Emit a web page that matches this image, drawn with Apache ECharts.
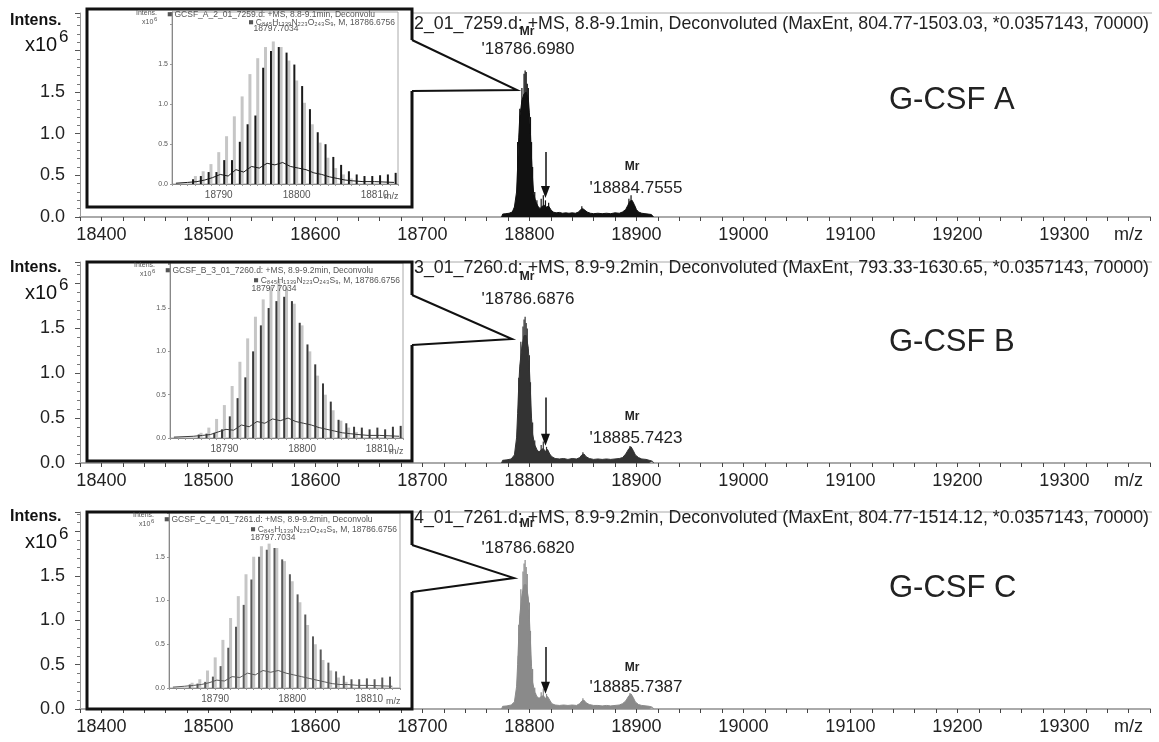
<!DOCTYPE html>
<html>
<head>
<meta charset="utf-8">
<script src="https://cdn.jsdelivr.net/npm/echarts@6/dist/echarts.min.js"></script>
<style>
html, body { margin: 0; padding: 0; background: #fff; }
#main { width: 1159px; height: 742px; }
</style>
</head>
<body>
<div id="main"></div>
<script>
// tick labels
var mzLabels = [18400, 18500, 18600, 18700, 18800, 18900, 19000, 19100, 19200, 19300];
var intensLabels = [0, 0.5, 1.0, 1.5];
var insetLabels = [18790, 18800, 18810];

// panel names / headers
var panelNames = ['G-CSF A', 'G-CSF B', 'G-CSF C'];
var headers = [
	'2_01_7259.d: +MS, 8.8-9.1min, Deconvoluted (MaxEnt, 804.77-1503.03, *0.0357143, 70000)',
	'3_01_7260.d: +MS, 8.9-9.2min, Deconvoluted (MaxEnt, 793.33-1630.65, *0.0357143, 70000)',
	'4_01_7261.d: +MS, 8.9-9.2min, Deconvoluted (MaxEnt, 804.77-1514.12, *0.0357143, 70000)'
];
var insetHeaders = [
	'\u25A0 GCSF_A_2_01_7259.d: +MS, 8.8-9.1min, Deconvolu',
	'\u25A0 GCSF_B_3_01_7260.d: +MS, 8.9-9.2min, Deconvolu',
	'\u25A0 GCSF_C_4_01_7261.d: +MS, 8.9-9.2min, Deconvolu'
];
var formulaText = '\u25A0 C\u2088\u2084\u2085H\u2081\u2083\u2083\u2089N\u2082\u2082\u2083O\u2082\u2084\u2083S\u2089, M, 18786.6756';
var insetPeakText = '18797.7034';
var mainPeakMr = ['18786.6980', '18786.6876', '18786.6820'];
var secondPeakMr = ['18884.7555', '18885.7423', '18885.7387'];

// main spectra, profile [m/z, intensity x10^6]
var profA = [[18774,0],[18775,0.035],[18778,0.04],[18781,0.045],[18784,0.06],[18786,0.12],[18788,0.3],[18789,0.6],[18790,0.95],[18791,1.2],[18793,1.4],[18795,1.48],[18797,1.5],[18799,1.42],[18800,1.25],[18801,1.0],[18802,0.7],[18803,0.45],[18804,0.28],[18806,0.18],[18808,0.13],[18810,0.1],[18812,0.13],[18814,0.14],[18816,0.12],[18818,0.13],[18820,0.09],[18822,0.06],[18825,0.05],[18828,0.055],[18831,0.045],[18834,0.05],[18837,0.045],[18840,0.05],[18843,0.045],[18846,0.06],[18848,0.09],[18850,0.1],[18852,0.08],[18854,0.06],[18857,0.045],[18860,0.04],[18864,0.045],[18868,0.04],[18872,0.045],[18876,0.04],[18880,0.05],[18884,0.045],[18887,0.06],[18890,0.09],[18892,0.14],[18894,0.19],[18896,0.2],[18898,0.15],[18900,0.09],[18902,0.06],[18905,0.045],[18908,0.04],[18911,0.035],[18914,0.03],[18916,0]];
var darkA = [[18789,0.9],[18791,1.3],[18793,1.55],[18795,1.72],[18796,1.76],[18797,1.74],[18798,1.6],[18799,1.55],[18801,1.2],[18802,0.9],[18803,0.6],[18805,0.3],[18807,0.2],[18811,0.22],[18813,0.26],[18815,0.2],[18818,0.17],[18849,0.13],[18893,0.22],[18895,0.26]];
var lightA = [[18789,0.55],[18790,0.85],[18792,1.2],[18794,1.3],[18797,1.35],[18799,1.3],[18801,0.95],[18803,0.4],[18806,0.16],[18809,0.1],[18812,0.12],[18894,0.15]];

var profB = [[18774,0],[18775,0.03],[18779,0.035],[18783,0.045],[18786,0.09],[18788,0.28],[18789,0.55],[18790,0.85],[18791,1.08],[18793,1.3],[18795,1.42],[18797,1.42],[18799,1.28],[18800,1.05],[18801,0.78],[18802,0.5],[18803,0.32],[18805,0.2],[18807,0.15],[18809,0.12],[18811,0.15],[18813,0.16],[18815,0.13],[18817,0.15],[18819,0.1],[18821,0.07],[18824,0.05],[18828,0.045],[18832,0.05],[18836,0.04],[18840,0.05],[18844,0.045],[18847,0.06],[18849,0.09],[18851,0.1],[18853,0.07],[18856,0.05],[18860,0.04],[18864,0.045],[18868,0.04],[18872,0.045],[18876,0.04],[18880,0.045],[18884,0.05],[18887,0.06],[18890,0.1],[18893,0.16],[18895,0.18],[18897,0.14],[18899,0.09],[18902,0.06],[18905,0.045],[18909,0.04],[18912,0.03],[18915,0.02],[18916,0]];
var darkB = [[18790,0.95],[18792,1.35],[18794,1.52],[18795,1.6],[18796,1.63],[18797,1.56],[18798,1.5],[18800,1.2],[18801,0.9],[18803,0.45],[18805,0.25],[18811,0.2],[18813,0.24],[18816,0.18],[18850,0.12],[18894,0.19]];
var lightB = [[18789,0.6],[18791,1.0],[18793,1.2],[18796,1.3],[18798,1.25],[18800,0.9],[18802,0.55],[18806,0.18],[18812,0.14]];

var profC = [[18774,0],[18775,0.03],[18779,0.035],[18783,0.045],[18786,0.08],[18788,0.25],[18789,0.5],[18790,0.8],[18791,1.05],[18793,1.28],[18795,1.4],[18797,1.4],[18799,1.25],[18800,1.02],[18801,0.75],[18802,0.48],[18803,0.3],[18805,0.19],[18807,0.14],[18809,0.12],[18811,0.14],[18813,0.15],[18815,0.12],[18817,0.14],[18819,0.1],[18821,0.06],[18824,0.045],[18828,0.04],[18832,0.045],[18836,0.04],[18840,0.045],[18844,0.04],[18847,0.06],[18849,0.09],[18851,0.1],[18853,0.07],[18856,0.05],[18860,0.04],[18864,0.04],[18868,0.035],[18872,0.04],[18876,0.035],[18880,0.04],[18884,0.045],[18887,0.06],[18890,0.09],[18893,0.15],[18895,0.17],[18897,0.13],[18899,0.08],[18902,0.05],[18905,0.04],[18909,0.035],[18912,0.03],[18915,0.02],[18916,0]];
var darkC = [[18790,0.95],[18792,1.35],[18794,1.55],[18795,1.64],[18796,1.68],[18797,1.6],[18798,1.52],[18800,1.2],[18801,0.88],[18803,0.45],[18805,0.24],[18811,0.19],[18813,0.23],[18816,0.17],[18850,0.12],[18894,0.18]];
var lightC = [[18789,0.6],[18791,1.0],[18793,1.2],[18796,1.3],[18798,1.25],[18800,0.9],[18802,0.55],[18806,0.18],[18812,0.14]];

// down arrows [m/z, from, to]
var arrowA = [18815, 0.78, 0.3];
var arrowB = [18815, 0.73, 0.26];
var arrowC = [18815, 0.7, 0.24];

// insets: measured isotope peaks
var isoMz = [18786.7,18787.7,18788.7,18789.7,18790.7,18791.7,18792.7,18793.7,18794.7,18795.7,18796.7,18797.7,18798.7,18799.7,18800.7,18801.7,18802.7,18803.7,18804.7,18805.7,18806.7,18807.7,18808.7,18809.7,18810.7,18811.7,18812.7];
var isoA = [0.06,0.1,0.15,0.15,0.3,0.3,0.53,0.75,0.86,1.46,1.67,1.72,1.65,1.5,1.23,0.94,0.65,0.5,0.34,0.24,0.16,0.12,0.1,0.1,0.11,0.12,0.14];
var isoB = [0.04,0.05,0.06,0.1,0.25,0.46,0.7,1.0,1.3,1.5,1.58,1.63,1.58,1.33,1.08,0.85,0.63,0.42,0.21,0.17,0.13,0.12,0.1,0.12,0.1,0.13,0.14];
var isoC = [0.04,0.05,0.07,0.13,0.25,0.46,0.7,0.95,1.24,1.5,1.58,1.6,1.47,1.3,1.07,0.84,0.59,0.44,0.29,0.19,0.14,0.1,0.1,0.11,0.1,0.12,0.13];
// insets: simulated pattern (light grey)
var simMz = [18787.0,18788.0,18789.0,18790.0,18791.0,18792.0,18793.0,18794.0,18795.0,18796.0,18797.0,18798.0,18799.0,18800.0,18801.0,18802.0,18803.0,18804.0,18805.0,18806.0,18807.0];
var simA = [0.1,0.16,0.25,0.4,0.6,0.85,1.1,1.38,1.58,1.72,1.79,1.72,1.55,1.3,1.02,0.75,0.52,0.33,0.2,0.12,0.07];
var simB = [0.06,0.12,0.22,0.38,0.6,0.88,1.15,1.4,1.6,1.75,1.82,1.74,1.55,1.3,1.0,0.72,0.5,0.32,0.2,0.12,0.07];
var simC = [0.06,0.1,0.2,0.35,0.55,0.8,1.05,1.3,1.5,1.62,1.65,1.6,1.45,1.22,0.98,0.72,0.5,0.32,0.2,0.12,0.07];
// insets: low profile trace
var traceA = [[18784.5,0.01],[18786,0.02],[18787.2,0.03],[18788.2,0.05],[18789.2,0.08],[18790.2,0.12],[18791.2,0.1],[18792.2,0.18],[18793.2,0.15],[18794.2,0.22],[18795.2,0.2],[18796.2,0.26],[18797.2,0.24],[18798.2,0.27],[18799.2,0.22],[18800.2,0.2],[18801.2,0.18],[18802.2,0.14],[18803.2,0.12],[18804.2,0.09],[18805.2,0.07],[18806.2,0.05],[18807.2,0.04],[18808.5,0.03],[18810,0.03],[18812.5,0.02]];
var traceB = [[18783.5,0.01],[18786,0.02],[18787.2,0.03],[18788.2,0.04],[18789.2,0.07],[18790.2,0.1],[18791.2,0.09],[18792.2,0.15],[18793.2,0.13],[18794.2,0.19],[18795.2,0.17],[18796.2,0.22],[18797.2,0.2],[18798.2,0.23],[18799.2,0.19],[18800.2,0.17],[18801.2,0.15],[18802.2,0.12],[18803.2,0.1],[18804.2,0.08],[18805.2,0.06],[18806.2,0.05],[18807.2,0.04],[18808.5,0.03],[18810,0.03],[18812.5,0.02]];
var traceC = [[18784.5,0.01],[18786,0.02],[18787.2,0.03],[18788.2,0.04],[18789.2,0.06],[18790.2,0.09],[18791.2,0.08],[18792.2,0.13],[18793.2,0.12],[18794.2,0.17],[18795.2,0.15],[18796.2,0.2],[18797.2,0.18],[18798.2,0.2],[18799.2,0.17],[18800.2,0.15],[18801.2,0.13],[18802.2,0.11],[18803.2,0.09],[18804.2,0.07],[18805.2,0.05],[18806.2,0.04],[18807.2,0.04],[18808.5,0.03],[18810,0.03],[18813,0.02]];

function zip(xs, ys) {
	return xs.map(function (x, k) { return [x, ys[k]]; });
}

var panels = [
	{ top: 13, height: 204, yMax: 2.45, ins: { left: 172, top: 12, width: 226, height: 172 }, insMin: 18784, insMax: 18813, insYMax: 2.16,
	  color: '#111', insColor: '#1a1a1a', prof: profA, dark: darkA, light: lightA, arrow: arrowA, iso: isoA, sim: simA, trace: traceA,
	  box: [87, 9, 412, 207], ptr: [[412, 40], [517, 90], [412, 91]] },
	{ top: 262, height: 201, yMax: 2.24, ins: { left: 170, top: 263, width: 233, height: 175 }, insMin: 18783, insMax: 18813, insYMax: 2.02,
	  color: '#333', insColor: '#3a3a3a', prof: profB, dark: darkB, light: lightB, arrow: arrowB, iso: isoB, sim: simB, trace: traceB,
	  box: [87, 262, 412, 461], ptr: [[412, 295], [512, 339], [412, 345]] },
	{ top: 512, height: 197, yMax: 2.22, ins: { left: 169, top: 513, width: 231, height: 175 }, insMin: 18784, insMax: 18814, insYMax: 2.0,
	  color: '#8a8a8a', insColor: '#5a5a5a', prof: profC, dark: darkC, light: lightC, arrow: arrowC, iso: isoC, sim: simC, trace: traceC,
	  box: [87, 512, 412, 709], ptr: [[412, 545], [514, 578], [412, 592]] }
];

// annotation layout per panel (pixels)
var anno = [
	{ head: 24, mr1: 32, num1: 49, mr2: 167, num2: 188, big: 100, intens: 21, x10: 45, insHead: 15, insForm: 23, insPeak: 29, insIntens: 13, insX10: 22, insMz: 197 },
	{ head: 268, mr1: 277, num1: 299, mr2: 417, num2: 438, big: 342, intens: 268, x10: 293, insHead: 271, insForm: 281, insPeak: 289, insIntens: 265, insX10: 274, insMz: 452 },
	{ head: 518, mr1: 524, num1: 548, mr2: 668, num2: 687, big: 588, intens: 517, x10: 542, insHead: 520, insForm: 530, insPeak: 538, insIntens: 515, insX10: 524, insMz: 702 }
];

function stick(w) {
	return function (params, api) {
		var p0 = api.coord([api.value(0), 0]);
		var p1 = api.coord([api.value(0), api.value(1)]);
		return {
			type: 'rect',
			shape: { x: p0[0] - w / 2, y: p1[1], width: w, height: p0[1] - p1[1] },
			style: { fill: api.visual('color') }
		};
	};
}

function txt(x, y, s, font, color, align) {
	return {
		type: 'text', x: x, y: y, z: 20,
		style: { text: s, font: font, fill: color || '#222', align: align || 'left', verticalAlign: 'middle' }
	};
}

var FONT = '"Liberation Sans", Arial, sans-serif';
var grids = [], xAxes = [], yAxes = [], series = [], graphics = [];

panels.forEach(function (p, i) {
	grids.push({ left: 80, top: p.top, width: 1070, height: p.height });
	xAxes.push({
		type: 'value', gridIndex: i, min: 18380, max: 19380, interval: 20,
		axisLine: { onZero: false, lineStyle: { color: '#aaa', width: 2 } },
		axisTick: { length: 4, lineStyle: { color: '#444' } },
		splitLine: { show: false },
		axisLabel: {
			margin: 9, fontSize: 18, fontFamily: FONT, color: '#222',
			formatter: function (v) {
				if (mzLabels.indexOf(v) >= 0) return String(v);
				if (v === 19360) return 'm/z';
				return '';
			}
		}
	});
	yAxes.push({
		type: 'value', gridIndex: i, min: 0, max: p.yMax, interval: 0.5,
		axisLine: { show: true, lineStyle: { color: '#999' } },
		axisTick: { show: true, length: 5, lineStyle: { color: '#555' } },
		minorTick: { show: true, splitNumber: 5, length: 3, lineStyle: { color: '#777' } },
		splitLine: { show: false },
		axisLabel: {
			margin: 15, fontSize: 18, fontFamily: FONT, color: '#222',
			formatter: function (v) {
				return intensLabels.indexOf(v) >= 0 ? v.toFixed(1) : '';
			}
		}
	});
});

panels.forEach(function (p, i) {
	var gi = 3 + i;
	grids.push({ left: p.ins.left, top: p.ins.top, width: p.ins.width, height: p.ins.height,
		show: true, borderColor: '#aaa', borderWidth: 1, backgroundColor: 'transparent' });
	xAxes.push({
		type: 'value', gridIndex: gi, min: p.insMin, max: p.insMax, interval: 1,
		axisLine: { onZero: false, lineStyle: { color: '#888' } },
		axisTick: { length: 2, lineStyle: { color: '#999' } },
		splitLine: { show: false },
		axisLabel: {
			margin: 6, fontSize: 10, fontFamily: FONT, color: '#555',
			formatter: function (v) { return insetLabels.indexOf(v) >= 0 ? String(v) : ''; }
		}
	});
	yAxes.push({
		type: 'value', gridIndex: gi, min: 0, max: p.insYMax, interval: 0.5,
		axisLine: { show: true, lineStyle: { color: '#888' } },
		axisTick: { show: true, length: 2, lineStyle: { color: '#999' } },
		splitLine: { show: false },
		axisLabel: {
			margin: 4, fontSize: 7, fontFamily: FONT, color: '#555',
			formatter: function (v) { return intensLabels.indexOf(v) >= 0 ? v.toFixed(1) : ''; }
		}
	});
});

panels.forEach(function (p, i) {
	// main spectrum
	series.push({
		type: 'line', xAxisIndex: i, yAxisIndex: i, data: p.prof, symbol: 'none',
		lineStyle: { color: p.color, width: 1 }, areaStyle: { color: p.color, opacity: 1 },
		markLine: {
			silent: true, symbol: ['none', 'triangle'], symbolSize: [9, 12],
			lineStyle: { color: '#111', width: 1.5, type: 'solid' }, label: { show: false },
			data: [[{ coord: [p.arrow[0], p.arrow[1]] }, { coord: [p.arrow[0], p.arrow[2]] }]]
		}
	});
	series.push({ type: 'custom', xAxisIndex: i, yAxisIndex: i, renderItem: stick(1),
		data: p.light, encode: { x: 0, y: 1 }, itemStyle: { color: '#d4d4d4' } });
	series.push({ type: 'custom', xAxisIndex: i, yAxisIndex: i, renderItem: stick(1.2),
		data: p.dark, encode: { x: 0, y: 1 }, itemStyle: { color: p.color } });
	// inset
	series.push({ type: 'custom', xAxisIndex: 3 + i, yAxisIndex: 3 + i, renderItem: stick(3),
		data: zip(simMz, p.sim), encode: { x: 0, y: 1 }, itemStyle: { color: '#c6c6c6' } });
	series.push({ type: 'custom', xAxisIndex: 3 + i, yAxisIndex: 3 + i, renderItem: stick(2),
		data: zip(isoMz, p.iso), encode: { x: 0, y: 1 }, itemStyle: { color: p.insColor } });
	series.push({ type: 'line', xAxisIndex: 3 + i, yAxisIndex: 3 + i, data: p.trace, symbol: 'none',
		lineStyle: { color: p.insColor, width: 1 } });
});

panels.forEach(function (p, i) {
	var a = anno[i], b = p.box;
	// callout box with pointer
	graphics.push({
		type: 'polyline', z: 15,
		shape: { points: [p.ptr[0], [b[2], b[1]], [b[0], b[1]], [b[0], b[3]], [b[2], b[3]], p.ptr[2]] },
		style: { stroke: '#111', lineWidth: 3, fill: null }
	});
	graphics.push({
		type: 'polyline', z: 15,
		shape: { points: [p.ptr[0], p.ptr[1], p.ptr[2]] },
		style: { stroke: '#111', lineWidth: 2, fill: null }
	});
	// frame top line
	graphics.push({ type: 'line', z: 1, shape: { x1: b[2], y1: p.top, x2: 1152, y2: p.top },
		style: { stroke: '#aaa', lineWidth: 1 } });
	// texts
	graphics.push(txt(414, a.head, headers[i], '17.8px ' + FONT, '#222'));
	graphics.push(txt(527, a.mr1, 'Mr', 'bold 12px ' + FONT, '#222', 'center'));
	graphics.push(txt(528, a.num1, "'" + mainPeakMr[i], '17px ' + FONT, '#222', 'center'));
	graphics.push(txt(632, a.mr2, 'Mr', 'bold 12px ' + FONT, '#222', 'center'));
	graphics.push(txt(636, a.num2, "'" + secondPeakMr[i], '17px ' + FONT, '#222', 'center'));
	graphics.push(txt(889, a.big, panelNames[i], '31px ' + FONT, '#222'));
	graphics.push(txt(10, a.intens, 'Intens.', 'bold 16px ' + FONT, '#111'));
	graphics.push(txt(25, a.x10, 'x10', '20px ' + FONT, '#111'));
	graphics.push(txt(59, a.x10 - 8, '6', '17px ' + FONT, '#111'));
	// inset texts
	graphics.push(txt(p.ins.left - 36, a.insIntens, 'Intens.', '7px ' + FONT, '#555'));
	graphics.push(txt(p.ins.left - 30, a.insX10, 'x10', '7px ' + FONT, '#555'));
	graphics.push(txt(p.ins.left - 18, a.insX10 - 3, '6', '6px ' + FONT, '#555'));
	graphics.push(txt(p.ins.left - 5, a.insHead, insetHeaders[i], '8.5px ' + FONT, '#555'));
	graphics.push(txt(p.ins.left + p.ins.width - 3, a.insForm, formulaText, '8.5px ' + FONT, '#555', 'right'));
	graphics.push(txt(p.ins.left + 104, a.insPeak, insetPeakText, '8.5px ' + FONT, '#555', 'center'));
	graphics.push(txt(p.ins.left + p.ins.width - 14, a.insMz, 'm/z', '9px ' + FONT, '#555'));
});

var myChart = echarts.init(document.getElementById('main'));
var option = {
	animation: false,
	backgroundColor: '#fff',
	grid: grids,
	xAxis: xAxes,
	yAxis: yAxes,
	series: series,
	graphic: { elements: graphics }
};
myChart.setOption(option);
</script>
</body>
</html>
